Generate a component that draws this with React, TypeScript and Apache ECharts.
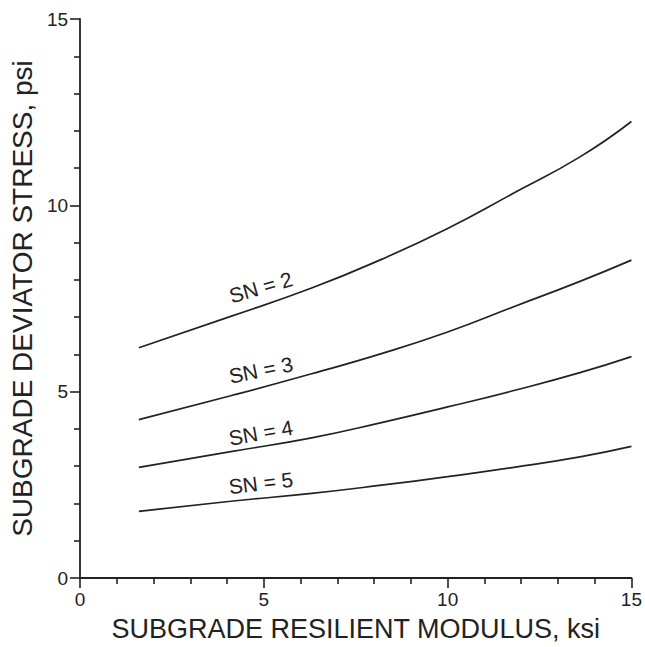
import React, { useEffect, useRef } from "react";
import * as echarts from "echarts";

// Subgrade resilient modulus (ksi) at which the curves were read
const modulus = [1.6, 4.1, 6.3, 8.2, 10, 11.8, 13.6, 15];
// Subgrade deviator stress (psi) for each structural number
const sn2 = [6.18, 7.02, 7.78, 8.55, 9.38, 10.33, 11.3, 12.25];
const sn3 = [4.25, 4.89, 5.48, 6.02, 6.6, 7.28, 7.96, 8.53];
const sn4 = [2.97, 3.39, 3.76, 4.17, 4.59, 5.03, 5.51, 5.94];
const sn5 = [1.79, 2.06, 2.27, 2.49, 2.72, 2.97, 3.25, 3.53];

const seriesNames = ["SN = 2", "SN = 3", "SN = 4", "SN = 5"];
const seriesValues = [sn2, sn3, sn4, sn5];

// label anchors in data space (modulus, stress) and text tilt in degrees
const labelX = [4.92, 4.92, 4.92, 4.92];
const labelY = [7.8, 5.58, 3.9, 2.55];
const labelTilt = [16, 11.5, 10, 7];

const xTitle = "SUBGRADE RESILIENT MODULUS, ksi";
const yTitle = "SUBGRADE DEVIATOR STRESS, psi";

const INK = "#222";
const FONT = "'Liberation Sans', Arial, sans-serif";

export default function App() {
  const ref = useRef<HTMLDivElement>(null);
  useEffect(() => {
    if (!ref.current) return;
    const chart = echarts.init(ref.current, null, { renderer: "svg" });
    const axisCommon = {
      type: "value" as const,
      min: 0,
      max: 15,
      interval: 5,
      splitLine: { show: false },
      minorSplitLine: { show: false },
      axisLine: { show: true, lineStyle: { color: INK, width: 1.8 } },
      axisTick: { show: true, length: 10, lineStyle: { color: INK, width: 1.6 } },
      minorTick: { show: true, splitNumber: 5, length: 6, lineStyle: { color: INK, width: 1.6 } },
      axisLabel: { color: INK, fontSize: 19, fontFamily: FONT, margin: 12 },
      nameLocation: "middle" as const,
    };
    chart.setOption({
      animation: false,
      backgroundColor: "#fff",
      grid: { left: 79, right: 12, top: 19, bottom: 67, containLabel: false },
      xAxis: {
        ...axisCommon,
        name: xTitle,
        nameGap: 37,
        nameTextStyle: { color: INK, fontSize: 27, fontFamily: FONT },
      },
      yAxis: {
        ...axisCommon,
        name: yTitle,
        nameGap: 44,
        nameTextStyle: { color: INK, fontSize: 28, fontFamily: FONT },
      },
      series: seriesValues.map((vals, i) => ({
        type: "line",
        name: seriesNames[i],
        data: modulus.map((x, j) => [x, vals[j]]),
        smooth: 0.5,
        showSymbol: false,
        lineStyle: { color: INK, width: 1.7 },
        itemStyle: { color: INK },
      })),
    });
    const graphics = seriesNames.map((name, i) => {
      const p = chart.convertToPixel({ gridIndex: 0 }, [labelX[i], labelY[i]]) as number[];
      return {
        type: "text",
        x: p[0],
        y: p[1],
        rotation: (labelTilt[i] * Math.PI) / 180,
        style: {
          text: name,
          fill: INK,
          font: `21px ${FONT}`,
          align: "center",
          verticalAlign: "middle",
        },
      };
    });
    chart.setOption({ graphic: graphics });
    return () => chart.dispose();
  }, []);
  return (
    <div
      ref={ref}
      style={{ position: "fixed", left: 0, top: 0, width: 645, height: 647 }}
    />
  );
}
